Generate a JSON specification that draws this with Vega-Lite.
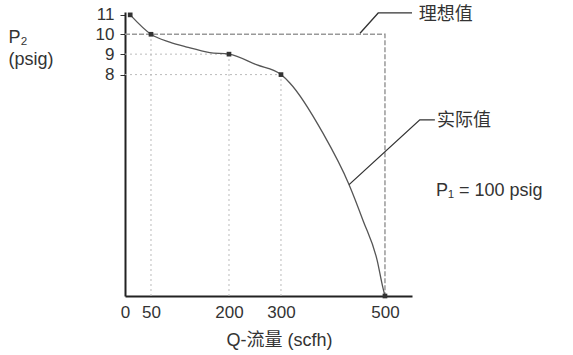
{
  "$schema": "https://vega.github.io/schema/vega-lite/v6.json",
  "width": 287,
  "height": 284,
  "autosize": {"type": "none"},
  "padding": {"left": 125, "top": 12, "right": 161, "bottom": 59},
  "background": "white",
  "config": {"view": {"stroke": null}, "font": "Liberation Sans, Noto Sans CJK SC"},
  "datasets": {
    "curve": [
      {"o": 1, "q": 10, "p": 11},
      {"o": 2, "q": 50, "p": 10},
      {"o": 3, "q": 86, "p": 9.6},
      {"o": 4, "q": 119, "p": 9.35},
      {"o": 5, "q": 163, "p": 9.08},
      {"o": 6, "q": 200, "p": 9},
      {"o": 7, "q": 254, "p": 8.47},
      {"o": 8, "q": 300, "p": 8},
      {"o": 9, "q": 317, "p": 7.6},
      {"o": 10, "q": 381, "p": 5.3},
      {"o": 11, "q": 431, "p": 3.2},
      {"o": 12, "q": 458, "p": 1.9},
      {"o": 13, "q": 485, "p": 0.7},
      {"o": 14, "q": 496, "p": 0.1},
      {"o": 15, "q": 500, "p": 0}
    ],
    "markers": [
      {"q": 10, "p": 11},
      {"q": 50, "p": 10},
      {"q": 200, "p": 9},
      {"q": 300, "p": 8},
      {"q": 500, "p": 0}
    ],
    "ideal": [
      {"o": 1, "q": 0, "p": 10},
      {"o": 2, "q": 500, "p": 10},
      {"o": 3, "q": 500, "p": 0}
    ],
    "grid": [
      {"q": 0, "p": 9, "q2": 200, "p2": 9},
      {"q": 0, "p": 8, "q2": 300, "p2": 8},
      {"q": 50, "p": 0, "q2": 50, "p2": 10},
      {"q": 200, "p": 0, "q2": 200, "p2": 9},
      {"q": 300, "p": 0, "q2": 300, "p2": 8}
    ],
    "leaders": [
      {"id": "ideal", "o": 1, "q": 452, "p": 10.05},
      {"id": "ideal", "o": 2, "q": 487, "p": 11.1},
      {"id": "ideal", "o": 3, "q": 552, "p": 11.1},
      {"id": "actual", "o": 1, "q": 431, "p": 3.2},
      {"id": "actual", "o": 2, "q": 567, "p": 5.9},
      {"id": "actual", "o": 3, "q": 596, "p": 5.9}
    ],
    "labels": [
      {"q": 565, "p": 11.0, "t": "理想值", "w": "bold"},
      {"q": 600, "p": 5.85, "t": "实际值", "w": "bold"},
      {"q": 598, "p": 2.96, "t": "P₁ = 100 psig", "w": "normal"}
    ]
  },
  "layer": [
    {
      "data": {"name": "grid"},
      "mark": {"type": "rule", "color": "#bbbbbb", "strokeDash": [2, 3], "strokeWidth": 1},
      "encoding": {
        "x": {"field": "q", "type": "quantitative", "scale": {"domain": [0, 552], "nice": false, "zero": false},
          "axis": {"values": [0, 50, 200, 300, 500], "grid": false, "ticks": false, "domainColor": "#222222", "domainWidth": 2,
            "labelFontSize": 17, "labelColor": "#333333", "labelPadding": 8, "labelFlush": false,
            "title": "Q-流量 (scfh)", "titleFontSize": 18, "titleFontWeight": "normal", "titleColor": "#333333",
            "titleX": 154, "titleY": 35, "titleFont": "Liberation Sans, Noto Sans CJK SC"}},
        "y": {"field": "p", "type": "quantitative", "scale": {"type": "pow", "exponent": 0.75, "domain": [0, 11.15], "nice": false},
          "axis": {"values": [8, 9, 10, 11], "grid": false, "ticks": true, "tickSize": 5, "tickColor": "#333333",
            "domainColor": "#222222", "domainWidth": 2, "labelFontSize": 17, "labelColor": "#333333", "labelPadding": 6,
            "title": ["P₂", "(psig)"], "titleAngle": 0, "titleAlign": "left", "titleBaseline": "alphabetic",
            "titleX": -117, "titleY": 30, "titleFontSize": 18, "titleFontWeight": "normal", "titleColor": "#333333", "titleLineHeight": 22}},
        "x2": {"field": "q2"},
        "y2": {"field": "p2"}
      }
    },
    {
      "data": {"name": "ideal"},
      "mark": {"type": "line", "color": "#999999", "strokeDash": [5, 2], "strokeWidth": 1.5},
      "encoding": {
        "x": {"field": "q", "type": "quantitative"},
        "y": {"field": "p", "type": "quantitative"},
        "order": {"field": "o", "type": "quantitative"}
      }
    },
    {
      "data": {"name": "curve"},
      "mark": {"type": "line", "color": "#555555", "strokeWidth": 1.3, "interpolate": "monotone"},
      "encoding": {
        "x": {"field": "q", "type": "quantitative"},
        "y": {"field": "p", "type": "quantitative"},
        "order": {"field": "o", "type": "quantitative"}
      }
    },
    {
      "data": {"name": "markers"},
      "mark": {"type": "square", "color": "#333333", "size": 22, "opacity": 1, "filled": true},
      "encoding": {
        "x": {"field": "q", "type": "quantitative"},
        "y": {"field": "p", "type": "quantitative"}
      }
    },
    {
      "data": {"name": "leaders"},
      "mark": {"type": "line", "color": "#333333", "strokeWidth": 1.3},
      "encoding": {
        "x": {"field": "q", "type": "quantitative"},
        "y": {"field": "p", "type": "quantitative"},
        "detail": {"field": "id"},
        "order": {"field": "o", "type": "quantitative"}
      }
    },
    {
      "data": {"name": "labels"},
      "mark": {"type": "text", "align": "left", "baseline": "middle", "fontSize": 18, "color": "#333333", "font": "Liberation Sans, Noto Sans CJK SC"},
      "encoding": {
        "x": {"field": "q", "type": "quantitative"},
        "y": {"field": "p", "type": "quantitative"},
        "text": {"field": "t"},
        "fontWeight": {"field": "w", "type": "nominal", "scale": null}
      }
    }
  ]
}
